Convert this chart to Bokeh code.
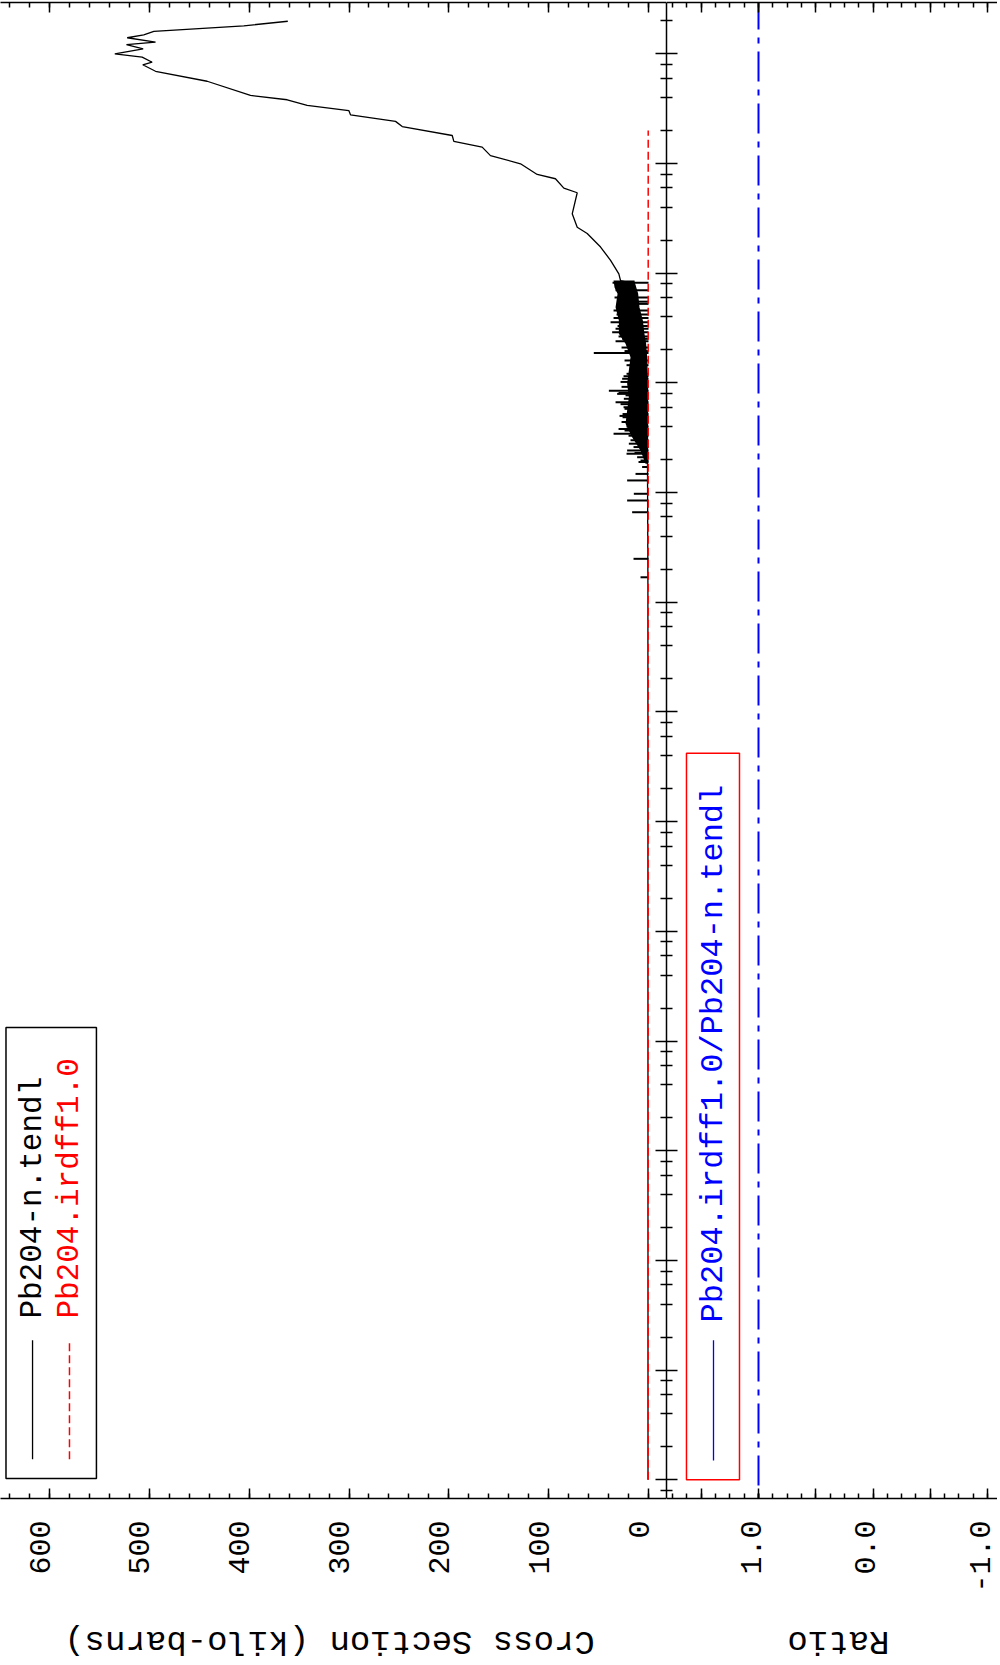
import math
from bokeh.plotting import figure
from bokeh.models import Range1d, LinearAxis, FixedTicker
from bokeh.layouts import row, column
from bokeh.embed import file_html
from bokeh.resources import INLINE
from bokeh.core.properties import value

# ---------------- data ----------------
# Pb204-n.tendl : smooth part + continuum (energy in eV, cross section in kilo-barns)
tendl_E = [1.98e8, 1.80e8, 1.60e8, 1.49e8, 1.40e8, 1.28e8, 1.21e8, 1.11e8, 1.00e8, 9.31e7,
           8.38e7, 7.94e7, 6.93e7, 5.62e7, 4.17e7, 3.81e7, 3.38e7, 3.04e7, 2.78e7, 2.42e7,
           2.17e7, 1.80e7, 1.59e7, 1.41e7, 1.18e7, 9.93e6, 7.94e6, 7.26e6, 5.96e6, 5.41e6,
           3.48e6, 2.62e6, 2.30e6, 1.73e6, 1.31e6, 9.86e5, 8.57e5, 8.0e5, 6.5e5, 4.9e5,
           3.7e5, 2.8e5, 2.27e5, 1.71e5, 1.30e5, 9.8e4, 1.8e4, 1.5e3, 1.0e-5]
tendl_xs = [361.3, 405.4, 495.5, 505.6, 522.2, 493.8, 522.9, 506.2, 534.6, 507.2,
            497.2, 506.6, 493.8, 442.1, 398.7, 361.9, 341.9, 300.2, 298.5, 253.4,
            246.7, 196.6, 195.0, 166.6, 158.3, 128.2, 111.5, 93.2, 84.8, 71.4,
            76.4, 71.4, 61.4, 48.0, 38.0, 29.7, 28.0, 14, 11, 9.7,
            6.3, 4.7, 3.0, 2.0, 1.5, 1.0, 1.0, 0.6, 0.5]

# dense resolved-resonance region of Pb204-n.tendl (outer / inner envelope)
band_E = [8.57e5, 7.4e5, 6.5e5, 4.9e5, 3.7e5, 2.8e5, 2.27e5, 1.71e5, 1.30e5, 9.8e4,
          7.4e4, 5.6e4, 4.24e4, 3.2e4, 2.42e4, 1.83e4]
band_hi = [35, 34, 31, 33, 29.7, 29.7, 23, 18, 19.7, 21.4,
           19.7, 21.4, 23, 16.4, 8, 3]
band_lo = [14, 13, 11, 9.7, 6.3, 4.7, 3, 2, 1.5, 1,
           1, 1, 1, 1, 1, 1]

# individual resonance peaks of Pb204-n.tendl
res_E = [4.57e5, 3.57e5, 2.90e5, 1.87e5, 8.5e4, 6.67e4, 3.44e4, 2.79e4, 2.42e4, 2.26e4,
         1.96e4, 1.48e4, 1.29e4, 9.75e3, 8.47e3, 6.62e3, 2.49e3, 1.69e3,
         5.25e5, 3.11e5, 2.52e5, 1.21e5, 1.09e5, 7.94e4, 7.16e4, 6.0e4, 4.86e4, 4.54e4,
         3.68e4, 2.1e4, 1.71e4,
         8.2e5, 7.0e5, 6.0e5, 5.5e5, 4.2e5, 3.9e5, 3.3e5, 2.65e5, 2.4e5, 2.1e5,
         1.95e5, 1.6e5, 1.45e5, 1.15e5, 1.02e5, 9.2e4, 8.1e4, 7.7e4, 6.4e4, 5.8e4,
         5.2e4, 5.0e4, 4.4e4, 4.0e4, 3.8e4, 3.3e4, 3.0e4, 2.6e4, 2.3e4, 1.9e4]
res_xs = [35, 38, 36.4, 54.8, 39.7, 33, 35, 19.7, 21.4, 22,
          8, 13, 21.4, 14.7, 21.4, 16.4, 15, 8,
          28, 33, 26.4, 22, 26.4, 31.4, 24.7, 25, 26, 20,
          24, 11.4, 6.4,
          36, 33, 34, 30, 32, 35, 31, 30, 33, 27,
          24, 24, 22, 25, 28, 27, 30, 23, 28, 24,
          26, 29, 27, 22, 30, 20, 18, 15, 14, 10]

# Pb204.irdff1.0
irdff_E = [1.0e-5, 1.0e-2, 1.0e1, 1.0e4, 1.0e6, 2.0e7]
irdff_xs = [0.3, 0.3, 0.3, 0.3, 0.3, 0.3]

# ratio Pb204.irdff1.0/Pb204-n.tendl
ratio_E = [1.0e-6, 1.0e9]
ratio_val = [1.0, 1.0]

# tick values and tick labels
xs_major = [0, 100, 200, 300, 400, 500, 600]
xs_labels = ["0", "100", "200", "300", "400", "500", "600"]
ratio_major = [1.5, 1.0, 0.5, 0.0, -0.5, -1.0]
ratio_label_pos = [1.0, 0.0, -1.0]
ratio_labels = ["1.0", "0.0", "-1.0"]

legend1_names = ["Pb204-n.tendl", "Pb204.irdff1.0"]
legend2_names = ["Pb204.irdff1.0/Pb204-n.tendl"]
title1 = "Cross Section (kilo-barns)"
title2 = "Ratio"

# ---------------- style ----------------
FONT = "Liberation Mono"
TICK_FS = "30px"
TITLE_FS = "34px"
LEG_FS = "31px"
LEG2_FS = "32px"

yr = Range1d(10 ** -5.170, 10 ** 8.4676)
e_major = [10.0 ** k for k in range(-6, 10)]
e_minor = [m * 10.0 ** k for k in range(-6, 10) for m in (2, 4, 6, 8)]
xs_minor = list(range(-20, 660, 20))
ratio_minor = [1.75 - 0.125 * i for i in range(23)]


def style_fig(p):
    p.grid.visible = False
    p.outline_line_color = None
    p.background_fill_color = "white"
    p.border_fill_color = "white"


def tick_axis(ax, ticks, minor, tin, tmin):
    ax.ticker = FixedTicker(ticks=ticks, minor_ticks=minor)
    ax.major_tick_in = tin
    ax.major_tick_out = 0
    ax.minor_tick_in = tmin
    ax.minor_tick_out = 0
    ax.major_label_overrides = {t: "" for t in ticks}
    ax.major_label_text_font_size = "1px"
    ax.major_label_text_alpha = 0
    ax.major_label_standoff = 0
    ax.axis_line_width = 1.5
    ax.axis_line_color = "black"
    ax.major_tick_line_width = 1.5
    ax.minor_tick_line_width = 1.5


# ---------------- cross-section panel ----------------
p1 = figure(output_backend="svg", toolbar_location=None,
            x_range=Range1d(649.1, -18.03), y_range=yr,
            y_axis_type="log", y_axis_location="right",
            frame_width=666, frame_height=1496,
            min_border_left=0, min_border_right=0, min_border_top=2, min_border_bottom=4)
style_fig(p1)
tick_axis(p1.xaxis[0], xs_major, xs_minor, 10, 5)
top1 = LinearAxis()
tick_axis(top1, xs_major, xs_minor, 10, 5)
p1.add_layout(top1, "above")
tick_axis(p1.yaxis[0], e_major, e_minor, 11, 6)

p1.harea(y=band_E, x1=band_hi, x2=band_lo, fill_color="black")
p1.segment(x0=[0.0] * len(res_E), x1=res_xs, y0=res_E, y1=res_E,
           line_color="black", line_width=2)
p1.line(tendl_xs, tendl_E, line_color="black", line_width=1.3)
p1.line(irdff_xs, irdff_E, line_color="red", line_width=1.5, line_dash="8 4")

# legend (upper panel)
p1.quad(left=[643.6], right=[553], bottom=[10 ** -4.987], top=[10 ** -0.876],
        fill_color="white", line_color="black", line_width=1.5)
p1.segment(x0=[617], x1=[617], y0=[10 ** -4.813], y1=[10 ** -3.728],
           line_color="black", line_width=1.3)
p1.segment(x0=[580], x1=[580], y0=[10 ** -4.813], y1=[10 ** -3.728],
           line_color="red", line_width=1.5, line_dash="8 4")
p1.text(x=[617, 580], y=[10 ** -3.53, 10 ** -3.53], text=legend1_names,
        angle=math.pi / 2, text_align="left", text_baseline="middle",
        text_font=value(FONT), text_font_size=value(LEG_FS),
        text_color=["black", "red"])

# ---------------- ratio panel ----------------
p2 = figure(output_backend="svg", toolbar_location=None,
            x_range=Range1d(1.8035, -1.0873), y_range=yr,
            y_axis_type="log", y_axis_location="left",
            frame_width=331, frame_height=1496,
            min_border_left=0, min_border_right=0, min_border_top=2, min_border_bottom=4)
style_fig(p2)
tick_axis(p2.xaxis[0], ratio_major, ratio_minor, 10, 5)
top2 = LinearAxis()
tick_axis(top2, ratio_major, ratio_minor, 10, 5)
p2.add_layout(top2, "above")
tick_axis(p2.yaxis[0], e_major, e_minor, 11, 6)

p2.line(ratio_val, ratio_E, line_color="blue", line_width=2, line_dash="30 8 6 8")

p2.quad(left=[1.629], right=[1.166], bottom=[10 ** -4.999], top=[10 ** 1.624],
        fill_color="white", line_color="red", line_width=1.5)
p2.segment(x0=[1.393], x1=[1.393], y0=[10 ** -4.823], y1=[10 ** -3.728],
           line_color="blue", line_width=1.3)
p2.text(x=[1.393], y=[10 ** -3.565], text=legend2_names,
        angle=math.pi / 2, text_align="left", text_baseline="middle",
        text_font=value(FONT), text_font_size=value(LEG2_FS), text_color="blue")

# ---------------- tick labels and axis titles (rotated as in the original page) ----------------
LAB_H = 160
b1 = figure(output_backend="svg", toolbar_location=None, frame_width=666, frame_height=LAB_H,
            x_range=p1.x_range, y_range=Range1d(0, LAB_H), x_axis_type=None, y_axis_type=None,
            min_border_left=0, min_border_right=1, min_border_top=0, min_border_bottom=0)
style_fig(b1)
b1.text(x=xs_major, y=[LAB_H - 18] * len(xs_major), text=xs_labels, angle=math.pi / 2,
        text_align="right", text_baseline="middle", x_offset=-10,
        text_font=value(FONT), text_font_size=value(TICK_FS), text_color="black")
b1.text(x=[319.5], y=[22], text=[title1], angle=math.pi,
        text_align="center", text_baseline="middle",
        text_font=value(FONT), text_font_size=value(TITLE_FS), text_color="black")

b2 = figure(output_backend="svg", toolbar_location=None, frame_width=331, frame_height=LAB_H,
            x_range=p2.x_range, y_range=Range1d(0, LAB_H), x_axis_type=None, y_axis_type=None,
            min_border_left=1, min_border_right=0, min_border_top=0, min_border_bottom=0)
style_fig(b2)
b2.text(x=ratio_label_pos, y=[LAB_H - 18] * len(ratio_label_pos), text=ratio_labels,
        angle=math.pi / 2, text_align="right", text_baseline="middle", x_offset=-10,
        text_font=value(FONT), text_font_size=value(TICK_FS), text_color="black")
b2.text(x=[0.319], y=[22], text=[title2], angle=math.pi,
        text_align="center", text_baseline="middle",
        text_font=value(FONT), text_font_size=value(TITLE_FS), text_color="black")

layout = column(row(p1, p2), row(b1, b2))
open("out.html", "w").write(file_html(layout, INLINE))
